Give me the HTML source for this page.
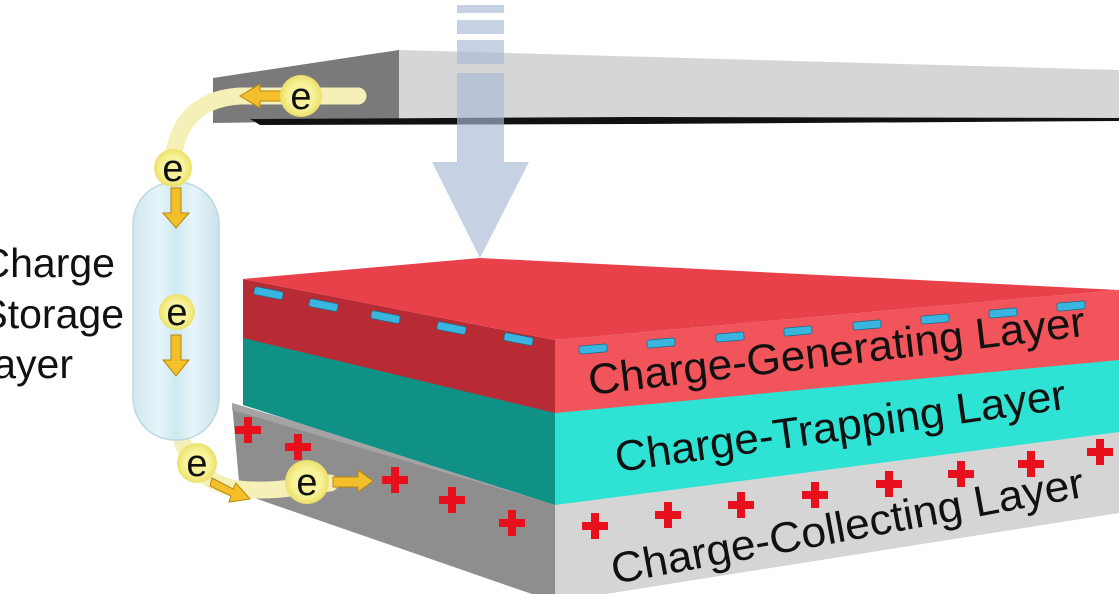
<!DOCTYPE html>
<html><head><meta charset="utf-8"><style>
html,body{margin:0;padding:0;background:#fff;overflow:hidden}
svg{display:block}
text{font-family:"Liberation Sans",Arial,sans-serif}
</style></head><body>
<svg width="1119" height="594" viewBox="0 0 1119 594" xmlns="http://www.w3.org/2000/svg">
<defs>
<linearGradient id="cap" x1="0" x2="1" y1="0" y2="0">
<stop offset="0" stop-color="#cfe6ef"/><stop offset="0.3" stop-color="#e6f5fa"/><stop offset="0.5" stop-color="#cbe9f3"/><stop offset="0.7" stop-color="#e6f5fa"/><stop offset="1" stop-color="#c8e1ea"/>
</linearGradient>
<radialGradient id="el" cx="0.5" cy="0.5" r="0.5">
<stop offset="0.6" stop-color="#f8f39a"/><stop offset="1" stop-color="#ece06a"/>
</radialGradient>
</defs>

<!-- top plate -->
<polygon points="213,78 399,50 399,120 213,123" fill="#7a7a7a"/>
<polygon points="399,50 1119,70 1119,118 399,118" fill="#d6d6d6"/>
<polygon points="250,119 640,117 1119,118 1119,121 640,124 260,125" fill="#111"/>

<!-- light arrow -->
<g fill="#a9b9d6" opacity="0.65">
<rect x="457" y="5" width="47" height="8"/>
<rect x="457" y="20" width="47" height="14"/>
<rect x="457" y="40" width="47" height="24"/>
<polygon points="457,73 504,73 504,162 529,162 480,258 432,162 457,162"/>
</g>

<!-- gray collecting layer -->
<polygon points="232,403 555,505 555,602 240,493" fill="#8e8e8e"/>
<polygon points="232,403 555,498 555,505 232,410" fill="#a3a3a3"/>
<polygon points="555,503 1119,430 1119,513 555,602" fill="#d5d5d5"/>
<!-- teal -->
<polygon points="243,336 555,411 555,505 243,405" fill="#0f9185"/>
<polygon points="555,411 1119,358 1119,432 555,505" fill="#2ee2d4"/>
<!-- red -->
<polygon points="243,279 555,340 555,413 243,338" fill="#b92b34"/>
<polygon points="555,340 1119,290 1119,360 555,413" fill="#f1545a"/>
<polygon points="243,279 480,258 1119,290 555,340" fill="#e8414a"/>

<!-- minus signs -->
<g fill="#3ab5e0" stroke="#1d6f8a" stroke-width="0.8">
<rect x="254" y="289" width="29" height="8" rx="2" transform="rotate(11 268 293)"/>
<rect x="309" y="301" width="29" height="8" rx="2" transform="rotate(11 323 305)"/>
<rect x="371" y="313" width="29" height="8" rx="2" transform="rotate(11 385 317)"/>
<rect x="437" y="324" width="29" height="8" rx="2" transform="rotate(11 451 328)"/>
<rect x="504" y="335" width="29" height="8" rx="2" transform="rotate(11 518 339)"/>
<rect x="579" y="345" width="28" height="8" rx="2" transform="rotate(-5 593 349)"/>
<rect x="647" y="339" width="28" height="8" rx="2" transform="rotate(-5 661 343)"/>
<rect x="716" y="333" width="28" height="8" rx="2" transform="rotate(-5 730 337)"/>
<rect x="784" y="327" width="28" height="8" rx="2" transform="rotate(-5 798 331)"/>
<rect x="853" y="321" width="28" height="8" rx="2" transform="rotate(-5 867 325)"/>
<rect x="921" y="315" width="28" height="8" rx="2" transform="rotate(-5 935 319)"/>
<rect x="989" y="309" width="28" height="8" rx="2" transform="rotate(-5 1003 313)"/>
<rect x="1057" y="302" width="28" height="8" rx="2" transform="rotate(-5 1071 306)"/>
</g>

<!-- plus signs -->
<g fill="#e8101c">
<path d="M-4,-13h8v9h9v8h-9v9h-8v-9h-9v-8h9z" transform="translate(248,430)"/>
<path d="M-4,-13h8v9h9v8h-9v9h-8v-9h-9v-8h9z" transform="translate(298,447)"/>
<path d="M-4,-13h8v9h9v8h-9v9h-8v-9h-9v-8h9z" transform="translate(395,480)"/>
<path d="M-4,-13h8v9h9v8h-9v9h-8v-9h-9v-8h9z" transform="translate(452,500)"/>
<path d="M-4,-13h8v9h9v8h-9v9h-8v-9h-9v-8h9z" transform="translate(512,523)"/>
<path d="M-4,-13h8v9h9v8h-9v9h-8v-9h-9v-8h9z" transform="translate(595,526)"/>
<path d="M-4,-13h8v9h9v8h-9v9h-8v-9h-9v-8h9z" transform="translate(668,515)"/>
<path d="M-4,-13h8v9h9v8h-9v9h-8v-9h-9v-8h9z" transform="translate(741,505)"/>
<path d="M-4,-13h8v9h9v8h-9v9h-8v-9h-9v-8h9z" transform="translate(815,495)"/>
<path d="M-4,-13h8v9h9v8h-9v9h-8v-9h-9v-8h9z" transform="translate(889,484)"/>
<path d="M-4,-13h8v9h9v8h-9v9h-8v-9h-9v-8h9z" transform="translate(961,474)"/>
<path d="M-4,-13h8v9h9v8h-9v9h-8v-9h-9v-8h9z" transform="translate(1031,464)"/>
<path d="M-4,-13h8v9h9v8h-9v9h-8v-9h-9v-8h9z" transform="translate(1100,452)"/>
</g>

<!-- layer labels -->
<g fill="#111" font-size="43">
<text x="590" y="395" textLength="500" lengthAdjust="spacingAndGlyphs" transform="rotate(-6.8 590 395)">Charge-Generating Layer</text>
<text x="617" y="472" textLength="455" lengthAdjust="spacingAndGlyphs" transform="rotate(-8 617 472)">Charge-Trapping Layer</text>
<text x="614" y="584" textLength="480" lengthAdjust="spacingAndGlyphs" transform="rotate(-10.5 614 584)">Charge-Collecting Layer</text>
</g>

<!-- left labels -->
<g fill="#111" font-size="41" text-anchor="end">
<text x="115" y="277">Charge</text>
<text x="124" y="328">Storage</text>
<text x="73" y="378">Layer</text>
</g>

<!-- wires -->
<path d="M358,96 L240,96 Q175,100 172,170" fill="none" stroke="#f5f0b8" stroke-width="17" stroke-linecap="round"/>
<path d="M180,435 Q190,468 215,482 Q240,495 300,487 L330,483" fill="none" stroke="#f5f0b8" stroke-width="17" stroke-linecap="round"/>

<!-- capsule -->
<rect x="133" y="182" width="86" height="258" rx="42" fill="url(#cap)" stroke="#b9d7e2" stroke-width="1.5" opacity="0.95"/>

<!-- arrows -->
<g fill="#f3c02c" stroke="#b8860b" stroke-width="1">
<polygon points="290,91 260,91 260,84 240,96 260,108 260,101 290,101"/>
<polygon points="171,188 181,188 181,213 189,213 176,228 163,213 171,213"/>
<polygon points="171,335 181,335 181,360 189,360 176,376 163,360 171,360"/>
<polygon points="212,478 233,489 236,483 250,499 229,502 231,496 210,486" />
<polygon points="333,477 358,477 358,470 373,481 358,492 358,487 333,487"/>
</g>

<!-- electrons -->
<g font-size="38" text-anchor="middle" fill="#111">
<circle cx="301" cy="96" r="21" fill="url(#el)"/><text x="301" y="109">e</text>
<circle cx="173" cy="168" r="19" fill="url(#el)"/><text x="173" y="181">e</text>
<circle cx="177" cy="312" r="18" fill="url(#el)"/><text x="177" y="325">e</text>
<circle cx="197" cy="463" r="20" fill="url(#el)"/><text x="197" y="476">e</text>
<circle cx="307" cy="482" r="22" fill="url(#el)"/><text x="307" y="495">e</text>
</g>
</svg>
</body></html>
